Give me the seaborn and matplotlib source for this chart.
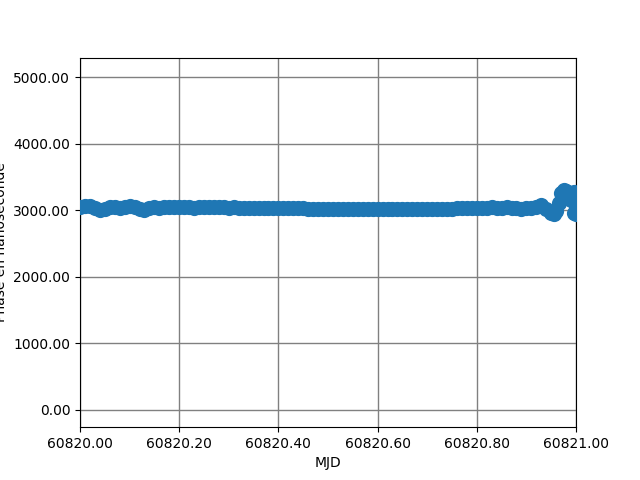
import matplotlib
matplotlib.use("Agg")
import matplotlib.pyplot as plt
import matplotlib.ticker as mticker
import seaborn as sns
import pandas as pd

mjd_offset = [
    0.00, 0.01, 0.02, 0.03, 0.04, 0.05, 0.06, 0.07, 0.08, 0.09,
    0.10, 0.11, 0.12, 0.13, 0.14, 0.15, 0.16, 0.17, 0.18, 0.19,
    0.20, 0.21, 0.22, 0.23, 0.24, 0.25, 0.26, 0.27, 0.28, 0.29,
    0.30, 0.31, 0.32, 0.33, 0.34, 0.35, 0.36, 0.37, 0.38, 0.39,
    0.40, 0.41, 0.42, 0.43, 0.44, 0.45, 0.46, 0.47, 0.48, 0.49,
    0.50, 0.51, 0.52, 0.53, 0.54, 0.55, 0.56, 0.57, 0.58, 0.59,
    0.60, 0.61, 0.62, 0.63, 0.64, 0.65, 0.66, 0.67, 0.68, 0.69,
    0.70, 0.71, 0.72, 0.73, 0.74, 0.75, 0.76, 0.77, 0.78, 0.79,
    0.80, 0.81, 0.82, 0.83, 0.84, 0.85, 0.86, 0.87, 0.88, 0.89,
    0.90, 0.91, 0.92, 0.93, 0.94, 0.95, 0.955, 0.96, 0.965, 0.97,
    0.975, 0.98, 0.985, 0.99, 0.995, 0.995, 1.00, 1.00,
]
phase_ns = [
    3050, 3060, 3055, 3030, 3000, 3010, 3040, 3050, 3035, 3045,
    3055, 3040, 3015, 3000, 3035, 3050, 3030, 3045, 3040, 3050,
    3040, 3045, 3040, 3035, 3050, 3045, 3042, 3040, 3042, 3040,
    3038, 3040, 3038, 3036, 3038, 3035, 3036, 3032, 3030, 3032,
    3030, 3028, 3030, 3028, 3025, 3026, 3020, 3015, 3022, 3018,
    3020, 3016, 3018, 3010, 3014, 3012, 3014, 3012, 3014, 3012,
    3014, 3012, 3014, 3012, 3014, 3012, 3014, 3012, 3014, 3012,
    3012, 3015, 3018, 3020, 3022, 3024, 3026, 3028, 3030, 3030,
    3032, 3030, 3034, 3040, 3030, 3035, 3045, 3025, 3030, 3020,
    3030, 3035, 3050, 3070, 3020, 2960, 2940, 2980, 3100, 3250,
    3300, 3290, 3220, 3150, 3270, 2960, 3050, 2940,
]

df = pd.DataFrame({"MJD": [60820 + v for v in mjd_offset], "Phase": phase_ns})

fig, ax = plt.subplots(figsize=(6.4, 4.8), dpi=100)
sns.scatterplot(data=df, x="MJD", y="Phase", ax=ax, s=120, color="#1f77b4",
                linewidth=0, zorder=3)
ax.set_xlim(60820.0, 60821.0)
ax.set_ylim(-262, 5292)
ax.set_xticks([60820.0, 60820.2, 60820.4, 60820.6, 60820.8, 60821.0])
ax.set_yticks([0, 1000, 2000, 3000, 4000, 5000])
ax.xaxis.set_major_formatter(mticker.FormatStrFormatter("%.2f"))
ax.yaxis.set_major_formatter(mticker.FormatStrFormatter("%.2f"))
ax.ticklabel_format
ax.grid(True, color="grey", linewidth=1.0, zorder=0)
ax.set_axisbelow(True)
ax.set_xlabel("MJD")
ax.set_ylabel("Phase en nanoseconde")
fig.savefig("out.png", dpi=100)
